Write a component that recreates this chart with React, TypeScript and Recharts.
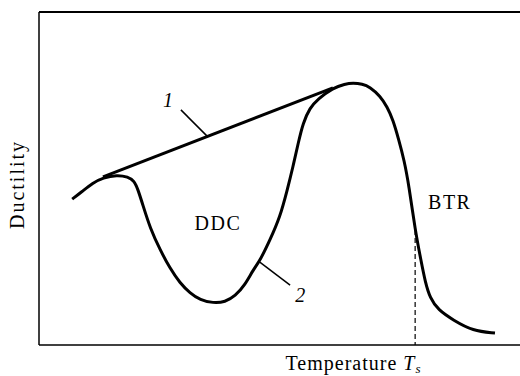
import React from 'react';
import { LineChart, Line, XAxis, YAxis, ReferenceLine, ReferenceDot } from 'recharts';

// Temperature (0-100, arbitrary units) and ductility (0-100, arbitrary units)
const curve2T = [6.9, 8.9, 11.2, 13.3, 16.2, 18.5, 19.8, 20.6, 21.6, 23.1, 25.2, 27.2, 29.3, 31.4, 33.5, 36.2, 38.7, 40.8, 42.8, 44.5, 46, 48, 50.1, 51.6, 52.8, 53.9, 54.9, 56.3, 58, 61.1, 63.6, 65.3, 67.2, 68.8, 70.9, 72.4, 73.6, 74.8, 75.9, 76.9, 78.2, 79.4, 80.3, 81.3, 83, 86.1, 90.2, 94.8];
const curve2D = [43.8, 46, 48.7, 50.2, 51.1, 50.5, 49.3, 46.6, 42, 35.1, 28.5, 23.1, 18.6, 15.6, 13.5, 12.6, 12.9, 14.7, 18, 22.5, 25.5, 31.5, 38.4, 46.5, 53.5, 60.7, 66.7, 71.2, 73.9, 77.2, 78.4, 78.7, 78.4, 77.5, 74.8, 71.5, 67.6, 61.6, 55.6, 48, 34.5, 25.5, 18.9, 14.1, 10.5, 7.5, 4.2, 3.6];
const curve1T = [13.3, 61.1];
const curve1D = [50.5, 77.2];

const ts = 78.2; // solidus temperature T_s
const tsDuctility = 34.5;

const leader1 = [{ x: 29.5, y: 70.6 }, { x: 35.1, y: 62.5 }];
const leader2 = [{ x: 45.9, y: 24.9 }, { x: 52.2, y: 18.0 }];

const textLabels = [
  { t: 26.8, d: 73.6, text: '1', italic: true },
  { t: 54.3, d: 15.0, text: '2', italic: true },
  { t: 37.2, d: 36.6, text: 'DDC', italic: false },
  { t: 85.4, d: 42.9, text: 'BTR', italic: false },
];

const curve2 = curve2T.map((t, i) => ({ t, d: curve2D[i] }));
const curve1 = curve1T.map((t, i) => ({ t, d: curve1D[i] }));

const FONT = 'Liberation Serif, DejaVu Serif, serif';

const XLabel = (props: any) => {
  const vb = props.viewBox || {};
  const x = vb.x + vb.width * 0.5125;
  return (
    <text x={x} y={370} style={{ fontFamily: FONT }} fontSize={20} letterSpacing={1} fill="#000">
      Temperature <tspan fontStyle="italic">T</tspan>
      <tspan fontStyle="italic" fontSize={13} dy={3}>s</tspan>
    </text>
  );
};

const YLabel = (props: any) => {
  const vb = props.viewBox || {};
  const cx = 17;
  const cy = vb.y + vb.height / 2 + 6;
  return (
    <text
      x={cx}
      y={cy}
      transform={`rotate(-90 ${cx} ${cy})`}
      textAnchor="middle"
      dominantBaseline="central"
      style={{ fontFamily: FONT }}
      fontSize={20}
      letterSpacing={2}
      fill="#000"
    >
      Ductility
    </text>
  );
};

export default function App() {
  return (
    <div style={{ position: 'absolute', left: 0, top: 0, background: '#fff' }}>
      <LineChart width={520} height={376} margin={{ top: 12, right: 0, left: 0, bottom: 0 }}>
        <XAxis
          dataKey="t"
          type="number"
          domain={[0, 100]}
          allowDataOverflow
          tick={false}
          tickLine={false}
          axisLine={{ stroke: '#000', strokeWidth: 1.5 }}
          height={31}
          label={{ content: XLabel }}
        />
        <YAxis
          dataKey="d"
          type="number"
          domain={[0, 100]}
          allowDataOverflow
          tick={false}
          tickLine={false}
          axisLine={{ stroke: '#000', strokeWidth: 1.5 }}
          width={39}
          label={{ content: YLabel }}
        />
        <ReferenceLine y={100} stroke="#000" strokeWidth={2} ifOverflow="visible" />
        <ReferenceLine
          segment={[{ x: ts, y: tsDuctility }, { x: ts, y: 0 }]}
          stroke="#000"
          strokeWidth={1.2}
          strokeDasharray="5 3"
        />
        <ReferenceLine segment={leader1} stroke="#000" strokeWidth={1.5} />
        <ReferenceLine segment={leader2} stroke="#000" strokeWidth={1.5} />
        <Line
          data={curve1}
          dataKey="d"
          type="linear"
          stroke="#000"
          strokeWidth={3}
          dot={false}
          activeDot={false}
          isAnimationActive={false}
        />
        <Line
          data={curve2}
          dataKey="d"
          type="basis"
          stroke="#000"
          strokeWidth={3}
          dot={false}
          activeDot={false}
          isAnimationActive={false}
        />
        {textLabels.map((l) => (
          <ReferenceDot
            key={l.text}
            x={l.t}
            y={l.d}
            r={0}
            ifOverflow="visible"
            shape={(p: any) => (
              <text
                x={p.cx}
                y={p.cy}
                textAnchor="middle"
                dominantBaseline="central"
                style={{ fontFamily: FONT }}
                fontSize={20}
                fontStyle={l.italic ? 'italic' : 'normal'}
                letterSpacing={l.italic ? 0 : 1.5}
                fill="#000"
              >
                {l.text}
              </text>
            )}
          />
        ))}
      </LineChart>
    </div>
  );
}
